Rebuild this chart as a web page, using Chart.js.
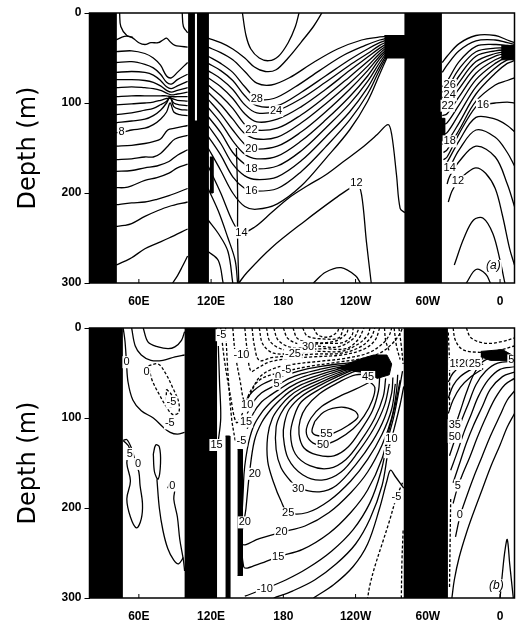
<!DOCTYPE html>
<html>
<head>
<meta charset="utf-8">
<script src="https://cdn.jsdelivr.net/npm/chart.js@4.4.1/dist/chart.umd.min.js"></script>
<style>
body{margin:0;background:#fff;width:516px;height:620px;overflow:hidden}
#wrapA{position:absolute;left:0;top:0;width:516px;height:310px}
#wrapB{position:absolute;left:0;top:300px;width:516px;height:320px}
</style>
</head>
<body>
<div id="wrapA"><canvas id="chartA" width="516" height="310"></canvas></div>
<div id="wrapB"><canvas id="chartB" width="516" height="320"></canvas></div>
<script>
// axis ticks (longitude in degrees east, 0..360 and a bit past)
const lonTicks = [60, 120, 180, 240, 300, 360];
const lonLabels = ['60E', '120E', '180', '120W', '60W', '0'];
const depthTicks = [0, 100, 200, 300];

// ---- (a) temperature ----
// land masks as [lon, depth] polygons
const landA = [
  [[19,0],[41,0],[41,300],[19,300]],
  [[100.9,0],[105.9,0],[105.9,120],[108.7,120],[108.7,0],[117.5,0],[117.5,300],[100.9,300]],
  [[119,160],[121.5,160],[121.5,200],[119,200]],
  [[264,25],[281,25],[281,0],[311,0],[311,300],[281,300],[281,50],[264,50]],
  [[311,117],[314,117],[314,142],[311,142]],
  [[361,36],[372,36],[372,52],[361,52]]
];

const tempIndian = [
  [[44,0],[45,15],[50,25],[55,27]],
  [[96,0],[97,15],[100.5,22]],
  [[41,30],[48,26],[54,27],[60,33],[65,35],[70,33],[76,33],[80,30],[83,28],[86,32],[90,36],[95,37],[100.5,38]],
  [[41,43],[54,42],[65,45],[72,50],[78,58],[83,70],[87,72],[92,66],[100.5,55]],
  [[41,55],[54,54],[65,57],[72,61],[78,68],[83,77],[87,79],[92,74],[100.5,68]],
  [[41,66],[54,65],[65,66],[72,69],[78,75],[83,82],[87,84],[92,81],[100.5,76]],
  [[41,74],[54,74],[65,75],[72,77],[78,81],[83,86],[87,88],[92,86],[100.5,83]],
  [[41,83],[54,82],[65,83],[72,84],[78,86],[83,89],[87,91],[92,90],[100.5,88]],
  [[41,93],[54,92],[65,92],[72,92],[78,92],[83,92],[87,93],[92,93],[100.5,93]],
  [[41,102],[54,101],[65,100],[72,99],[78,97],[83,95],[87,95],[92,97],[100.5,98]],
  [[41,113],[54,111],[65,108],[72,106],[78,102],[83,98],[86,94],[89,100],[94,102],[100.5,103]],
  [[41,122],[54,120],[65,118],[72,114],[78,108],[83,100],[86,93],[89,104],[94,107],[100.5,108]],
  [[41,133],[48,132],[54,130],[65,128],[72,124],[78,118],[83,110],[86,100],[89,110],[94,113],[100.5,114]],
  [[41,148],[54,147],[65,145],[72,143],[78,140],[84,130],[90,128],[100.5,125]],
  [[41,163],[54,162],[65,160],[72,160],[78,156],[84,148],[90,140],[100.5,136]],
  [[41,176],[54,175],[65,172],[75,170],[85,165],[92,158],[100.5,152]],
  [[41,194],[48,194],[54,192],[65,186],[75,183],[85,178],[92,172],[100.5,168]],
  [[41,213],[54,211],[65,210],[75,207],[85,203],[100.5,195]],
  [[41,237],[48,236],[54,234],[65,226],[75,220],[85,215],[100.5,210]],
  [[41,280],[48,276],[54,272],[65,262],[75,256],[85,250],[100.5,240]],
  [[88,300],[92,292],[96,282],[100.5,270]]
];

const tempPacific = [
  [[146,0],[149,25],[153,40],[160,50],[168,53],[176,48],[184,33],[190,15],[193,0]],
  [[117.5,28],[128,33],[138,40],[148,50],[156,60],[165,65],[174,63],[184,50],[195,32],[205,15],[212,0]],
  [[117.5,38],[128,44],[138,52],[148,65],[158,78],[170,80],[185,72],[205,55],[225,40],[245,30],[258,27],[266,26]],
  [[117.5,48],[128,56],[138,66],[148,82],[158,95],[172,95],[190,82],[210,64],[230,47],[248,36],[260,30],[266,28]],
  [[117.5,56],[128,64],[138,75],[148,92],[158,103],[175,103],[195,88],[215,70],[235,52],[250,40],[260,33],[266,30]],
  [[117.5,64],[128,73],[138,85],[148,102],[158,111],[174,109],[195,95],[215,77],[235,58],[250,45],[260,36],[266,32]],
  [[117.5,72],[128,82],[138,95],[148,112],[158,121],[175,118],[195,104],[215,85],[235,64],[250,49],[260,39],[266,34]],
  [[117.5,80],[128,92],[138,106],[148,124],[155,130],[175,128],[195,113],[215,93],[235,71],[250,54],[260,42],[266,36]],
  [[117.5,88],[128,102],[138,118],[148,134],[158,140],[175,138],[195,122],[215,101],[235,78],[250,59],[260,45],[266,38]],
  [[117.5,96],[128,112],[138,130],[148,146],[155,151],[175,148],[195,132],[215,110],[235,85],[250,64],[260,48],[266,40]],
  [[117.5,105],[128,122],[138,142],[148,157],[158,162],[175,159],[195,142],[215,119],[235,93],[250,70],[260,51],[266,42]],
  [[117.5,115],[128,133],[138,155],[148,168],[155,173],[175,170],[195,153],[215,128],[235,101],[250,76],[260,55],[266,44]],
  [[117.5,125],[128,145],[138,168],[148,181],[158,185],[175,182],[195,164],[215,138],[235,110],[250,83],[260,59],[266,46]],
  [[117.5,137],[128,158],[138,182],[148,195],[155,198],[175,195],[195,176],[215,149],[235,119],[250,90],[260,63],[266,48]],
  [[117.5,150],[128,175],[138,200],[148,215],[158,218],[175,212],[195,192],[215,162],[235,130],[250,98],[260,68],[266,50]],
  [[117.5,170],[128,200],[138,232],[145,244],[156,238],[170,222],[184,206],[200,192],[215,180],[230,165],[245,150],[258,135],[267,124],[270,135],[274,180],[277,217],[281,222]],
  [[117.5,195],[126,220],[134,250],[140,275],[142,300]],
  [[143,300],[150,288],[170,261],[198,231],[223,206],[237,193],[241,189],[245,202],[249,254],[253,300]],
  [[205,300],[215,288],[228,283],[240,292],[244,300]],
  [[141,150],[142,200],[142,250],[143,300]],
  [[117.5,230],[126,245],[134,265],[138,300]],
  [[117.5,265],[126,275],[130,300]]
];

const tempAtlantic = [
  [[312,55],[316,48],[326,34],[340,25],[356,25],[366,30],[372,33]],
  [[312,66],[316,58],[326,42],[340,31],[356,30],[366,33],[372,35]],
  [[312,82],[316,76],[326,54],[340,37],[356,35],[366,36],[372,37]],
  [[312,88],[316,84],[326,62],[340,43],[356,39],[366,39],[372,39]],
  [[312,94],[316,91],[326,70],[340,48],[356,42],[366,41],[372,41]],
  [[312,99],[316,97],[326,77],[340,54],[356,45],[366,43],[372,43]],
  [[312,104],[316,102],[326,84],[340,60],[356,48],[366,45],[372,45]],
  [[312,114],[316,112],[326,93],[340,67],[356,52],[366,47],[372,47]],
  [[312,124],[316,122],[326,102],[340,74],[356,56],[366,49],[372,49]],
  [[312,135],[316,133],[326,112],[340,82],[356,61],[366,52],[372,51]],
  [[312,146],[316,143],[326,122],[340,90],[356,67],[366,56],[372,53]],
  [[313,155],[316,152],[326,130],[340,98],[356,80],[366,75],[372,72]],
  [[313,163],[316,160],[326,134],[340,104],[346,102],[356,100],[366,99],[372,100]],
  [[314,170],[316,166],[326,142],[340,116],[356,118],[366,125],[372,132]],
  [[315,178],[318,172],[326,152],[340,130],[356,138],[366,155],[372,170]],
  [[316,190],[318,182],[326,165],[340,148],[356,160],[366,190],[372,215]],
  [[317,210],[320,198],[325,187],[332,178],[340,172],[348,178],[356,195],[362,225],[368,262],[372,280]],
  [[322,280],[330,250],[338,230],[346,228],[354,245],[360,275],[364,300]],
  [[332,300],[340,285],[348,290],[352,300]]
];

// contour labels: [text, lon, depth]
const tempLabels = [
  ['8',45.6,132],['28',158,95],['24',174,109],['22',153.5,130],['20',153.5,151],
  ['18',153.5,173],['16',153.5,198],['14',145.2,244],['12',240.7,189],
  ['26',318.2,80],['24',318.2,91.5],['22',316.5,103],['16',345.9,102],
  ['18',318.2,142.6],['14',318.2,172],['12',325,187],['(a)',354.5,281]
];

// ---- (b) zonal velocity ----
const landB = [
  [[19,0],[46,0],[46,300],[19,300]],
  [[98,0],[124.5,0],[124.5,300],[98,300]],
  [[132,120],[135.5,120],[135.5,300],[132,300]],
  [[142,135],[146,135],[146,275],[142,275]],
  [[225,45],[240,36],[255,30],[266,30],[270,40],[268,52],[258,56],[250,50],[238,48]],
  [[280,0],[316,0],[316,300],[280,300]],
  [[344,26],[362,24],[370,30],[368,36],[352,36],[344,32]]
];

const velPositive = [
  [[206,104],[214,93],[228,88],[239,92],[242,99],[234,108],[223,116],[212,120],[204,116],[206,104]],
  [[252,60],[240,68],[225,77],[212,87],[203,100],[199,115],[203,126],[212,130],[225,124],[238,112],[247,98],[254,80],[256,66],[252,60]],
  [[256,52],[240,52],[225,61],[210,73],[199,88],[194,102],[193,118],[197,133],[208,141],[222,142],[234,132],[245,112],[254,92],[259,70],[260,55]],
  [[252,46],[240,48],[225,57],[210,68],[195,82],[189,98],[186,118],[190,140],[202,153],[218,156],[232,146],[245,124],[256,100],[263,76],[265,56]],
  [[250,44],[240,46],[225,54],[210,64],[195,76],[185,90],[181,105],[180,120],[184,145],[196,163],[212,169],[228,160],[242,138],[255,112],[264,86],[268,62]],
  [[248,43],[240,45],[225,52],[210,61],[195,71],[185,82],[178,95],[174,110],[174,135],[178,155],[186,170],[193,178],[210,182],[224,175],[240,152],[254,126],[264,100],[270,72],[271,55]],
  [[246,42],[240,44],[225,50],[210,58],[195,67],[185,76],[178,86],[171,100],[167,120],[167,148],[172,172],[178,192],[184,205],[200,205],[218,192],[236,170],[250,146],[262,118],[270,90],[273,62]],
  [[244,41],[225,48],[210,55],[195,63],[185,71],[178,79],[170,90],[162,105],[156,125],[152,160],[149,200],[146,240],[160,234],[178,227],[198,220],[218,205],[236,183],[250,160],[262,130],[270,100],[274,70],[275,52]],
  [[242,40],[225,46],[210,52],[195,59],[185,66],[178,73],[170,82],[162,94],[155,110],[150,135],[147,170],[147,265],[160,262],[176,254],[196,246],[218,228],[236,205],[250,180],[262,145],[268,112],[273,85],[277,58]],
  [[240,41],[225,44],[210,49],[195,55],[185,61],[178,67],[170,74],[162,82],[155,95],[150,112]],
  [[240,40],[225,42],[210,46],[195,51],[185,56],[178,61],[170,66],[162,72],[155,82],[150,95]],
  [[240,38],[225,40],[210,43],[195,47],[185,51],[178,54],[170,58],[162,63],[155,70],[150,78]],
  [[148,298],[164,290],[182,280],[200,267],[220,248],[238,224],[252,194],[261,160],[267,123],[272,97],[276,70],[279,48]],
  [[172,300],[188,292],[206,280],[224,262],[240,240],[252,212],[262,175],[267,138],[272,112],[277,85],[280,65]],
  [[205,300],[222,285],[238,265],[250,240],[260,200],[266,170],[269,158],[273,165],[280,178]],
  [[126,20],[127,60],[128,100],[126,125],[125,135]],
  [[63.6,0],[67.7,15.6],[76,21],[84.3,23],[89.9,21],[95.4,13.7],[98,4]],
  [[54,0],[57,20],[62,30],[70,36],[80,36],[90,32],[98,30]],
  [[47,0],[48.5,15],[49.7,38],[51,60],[55,80],[62,92],[72,100],[80,110],[86,116],[92,118],[98,116]],
  [[47,125],[52,133],[50,150],[53,170],[50,190],[53,210],[58,222],[62,212],[63,195],[61,175],[60,160],[57,148],[54,134],[50,124],[47,125]],
  [[72,140],[74,130],[77,132],[78,150],[76,168],[73,160],[72,140]],
  [[84,178],[87,170],[90,176],[89,190],[92,210],[94,235],[97,258],[98,270]],
  [[75,168],[77,200],[80,225],[84,245],[89,258],[93,262],[97,255]],
  [[370,30],[355,32],[345,38],[338,52],[332,72],[327,92],[322,112],[318,128]],
  [[372,37],[358,39],[348,48],[340,63],[334,83],[328,103],[323,122],[318,142]],
  [[372,43],[360,46],[350,58],[342,76],[336,96],[330,116],[325,136],[319,158]],
  [[372,49],[362,54],[352,68],[345,88],[338,108],[332,128],[327,148],[321,172]],
  [[372,56],[364,63],[356,78],[348,100],[341,122],[335,143],[329,162],[325,176],[321,195]],
  [[372,70],[366,80],[360,97],[352,120],[345,143],[338,166],[332,188],[327,208],[323,232]],
  [[372,95],[366,110],[360,130],[352,155],[345,180],[338,205],[332,228],[326,255],[322,280],[320,300]],
  [[317,60],[321,50],[327,43],[336,38],[346,34]],
  [[317,78],[321,64],[327,54],[336,46],[346,40]],
  [[317,95],[321,80],[327,66],[336,54],[346,45]],
  [[360,300],[362,272],[364,248],[366,235],[368,262],[371,300]]
];

// negative (westward) contours, drawn dashed
const velNegative = [
  [[128,0],[131,35],[136,75],[141,105],[146,95],[152,72],[160,58],[170,52],[182,48],[200,43],[225,38],[245,34],[260,28],[270,18],[276,8],[279,0]],
  [[138,0],[140,28],[144,58],[148,82],[153,72],[160,55],[172,45],[190,40],[210,37],[230,34],[250,28],[262,18],[268,8],[270,0]],
  [[148,0],[150,25],[153,48],[158,45],[168,38],[185,34],[205,32],[228,30],[246,24],[256,14],[260,0]],
  [[154,0],[156,20],[160,36],[170,33],[186,31],[206,29],[228,28],[244,21],[253,10],[256,0]],
  [[160,0],[163,18],[172,28],[188,28],[208,26],[228,26],[242,18],[250,8],[252,0]],
  [[166,0],[169,15],[180,24],[196,24],[214,23],[232,23],[242,13],[247,0]],
  [[172,0],[176,14],[188,22],[205,20],[225,21],[238,12],[243,0]],
  [[180,0],[184,12],[195,18],[214,17],[230,16],[237,8],[238,0]],
  [[188,0],[192,12],[204,16],[222,15],[232,7],[234,0]],
  [[196,0],[200,9],[212,12],[226,11],[230,0]],
  [[205,0],[209,8],[218,10],[225,4],[226,0]],
  [[264,0],[265,14],[268,26]],
  [[272,0],[274,20],[277,35]],
  [[276,0],[278,20],[279.5,40]],
  [[279,172],[274,188],[268,215],[262,240],[256,265],[252,285],[250,300]],
  [[279.5,225],[278.5,260],[278,300]],
  [[132,0],[134,50],[137,100],[140,125]],
  [[68,42],[76,40],[82,50],[88,66],[93,82],[93,94],[88,96],[83,88],[77,74],[71,58],[68,42]],
  [[83,68],[87,74],[89,84],[86,88],[83,80],[83,68]],
  [[321,0],[323,14],[329,24],[343,27],[358,25],[372,20]],
  [[332,0],[336,11],[348,17],[362,15],[372,11]],
  [[317,5],[318,40],[318,90]],
  [[319,190],[318.5,240],[318,290]]
];

const velLabels = [
  ['0',49.7,38],['0',66.3,49],['-5',87,82],['-5',85.7,106],['5',52.5,140],['0',59.4,151],['0',87.7,175],
  ['-5',128.6,8],['-10',145.2,30],['-30',199,21],['-25',188,28.5],['-5',182.6,47],['0',175.7,54.4],['5',174.3,62],
  ['10',150,86],['15',149,104],['-5',145.2,125],['15',124.5,130],['20',156.3,162],['20',148,216],
  ['55',215.8,117.4],['50',213,130],['30',192.3,178.5],['25',184,206],['20',178.4,226.7],['15',175.7,254.4],['-10',164.6,289.6],
  ['10',269.8,123],['5',267,138],['-5',274,188],['45',250.4,54.4],
  ['5',369.4,36],['15',323,40],['20',331,40],['25',339,40],['35',322.4,108],['50',322.4,121],['5',325,175],['0',326.5,208],
  ['(b)',357,286]
];

Chart.defaults.font.family = "'Liberation Sans', Arial, sans-serif";
Chart.defaults.color = '#000';

function toPts(line) {
  return line.map(p => ({x: p[0], y: p[1]}));
}

function lineSet(line, dashed) {
  return {
    data: toPts(line), showLine: true, borderColor: '#000', borderWidth: 1.3,
    borderDash: dashed ? [3, 2] : [], pointRadius: 0, tension: 0.35, fill: false, order: 2
  };
}

function landSet(poly) {
  return {
    data: toPts(poly), showLine: true, borderColor: '#000', borderWidth: 1,
    backgroundColor: '#000', pointRadius: 0, tension: 0, fill: 'shape', order: 1
  };
}

function drawLabels(chart, items) {
  const ctx = chart.ctx, xs = chart.scales.x, ys = chart.scales.y;
  ctx.save();
  ctx.textAlign = 'center';
  ctx.textBaseline = 'middle';
  items.forEach(it => {
    const t = it[0];
    const px = xs.getPixelForValue(it[1]), py = ys.getPixelForValue(it[2]);
    ctx.font = t.charAt(0) == '(' ? "italic 12px 'Liberation Sans', Arial, sans-serif" : "11px 'Liberation Sans', Arial, sans-serif";
    const w = ctx.measureText(t).width;
    ctx.fillStyle = '#fff';
    ctx.fillRect(px - w / 2 - 1, py - 6, w + 2, 12);
    ctx.fillStyle = '#000';
    ctx.fillText(t, px, py);
  });
  ctx.restore();
}

const framePlugin = {
  id: 'frame',
  afterDraw(chart) {
    const ctx = chart.ctx, a = chart.chartArea, xs = chart.scales.x;
    ctx.save();
    ctx.strokeStyle = '#000';
    ctx.lineWidth = 1.5;
    ctx.strokeRect(a.left, a.top, a.right - a.left, a.bottom - a.top);
    ctx.lineWidth = 1;
    ctx.beginPath();
    lonTicks.forEach(v => {
      const x = xs.getPixelForValue(v);
      ctx.moveTo(x, a.bottom);
      ctx.lineTo(x, a.bottom - 4);
    });
    ctx.stroke();
    ctx.restore();
  }
};

function makeChart(id, land, solid, dashed, labels, padTop, xAxisH) {
  const datasets = [];
  land.forEach(p => datasets.push(landSet(p)));
  solid.forEach(l => datasets.push(lineSet(l, false)));
  dashed.forEach(l => datasets.push(lineSet(l, true)));
  return new Chart(document.getElementById(id), {
    type: 'scatter',
    data: {datasets: datasets},
    options: {
      responsive: false,
      animation: false,
      events: [],
      layout: {padding: {top: padTop, right: 1.5, left: 0, bottom: 0}},
      plugins: {legend: {display: false}, tooltip: {enabled: false}},
      scales: {
        x: {
          type: 'linear', min: 19, max: 372,
          afterBuildTicks: s => { s.ticks = lonTicks.map(v => ({value: v})); },
          afterFit: s => { s.height = xAxisH; },
          ticks: {
            callback: v => lonLabels[lonTicks.indexOf(v)],
            font: {size: 12, weight: 'bold'}, padding: 3, maxRotation: 0, autoSkip: false
          },
          grid: {display: false},
          border: {display: false}
        },
        y: {
          type: 'linear', min: 0, max: 300, reverse: true,
          afterBuildTicks: s => { s.ticks = depthTicks.map(v => ({value: v})); },
          afterFit: s => { s.width = 89.5; },
          ticks: {font: {size: 12, weight: 'bold'}, padding: 3},
          grid: {drawOnChartArea: false, tickLength: 5, color: '#000'},
          border: {display: false},
          title: {
            display: true, text: 'Depth (m)',
            font: {family: "'DejaVu Sans', sans-serif", size: 24},
            padding: {top: 14, bottom: 0}
          }
        }
      }
    },
    plugins: [framePlugin, {id: 'contourLabels', afterDatasetsDraw(chart) { drawLabels(chart, labels); }}]
  });
}

makeChart('chartA', landA, tempIndian.concat(tempPacific, tempAtlantic), [], tempLabels, 13, 27);
makeChart('chartB', landB, velPositive, velNegative, velLabels, 28, 22);
</script>
</body>
</html>
